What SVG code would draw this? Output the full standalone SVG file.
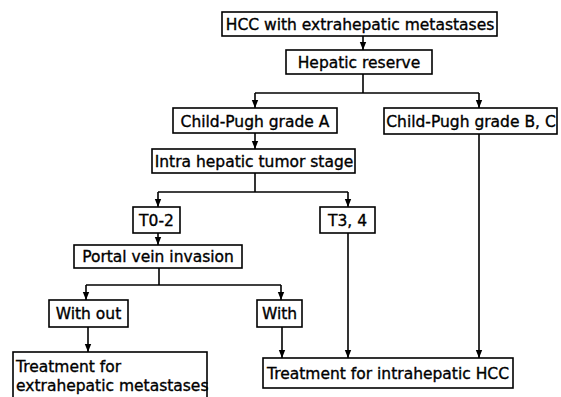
<svg xmlns="http://www.w3.org/2000/svg" width="561" height="397" viewBox="0 0 561 397">
<style>
rect{fill:#fff;stroke:#000;stroke-width:1.6}
text{font-family:"DejaVu Sans","Liberation Sans",sans-serif;font-size:15.5px;fill:#000;stroke:#000;stroke-width:0.35;text-anchor:middle}
.l{text-anchor:start}
#connectors path{fill:none;stroke:#000;stroke-width:1.6}
</style>
<defs>
<marker id="ah" viewBox="0 0 8 8" refX="8" refY="4" markerWidth="8" markerHeight="8" markerUnits="userSpaceOnUse" orient="auto">
<path d="M0,0.8 L8,4 L0,7.2 Z" fill="#000"/>
</marker>
</defs>
<rect width="561" height="397" style="fill:#fff;stroke:none"/>
<g id="connectors">
<path d="M363,36 V50" marker-end="url(#ah)"/>
<path d="M363,74 V93"/>
<path d="M255,93 H479"/>
<path d="M255,93 V108" marker-end="url(#ah)"/>
<path d="M479,93 V108" marker-end="url(#ah)"/>
<path d="M255,133 V149" marker-end="url(#ah)"/>
<path d="M255,173 V192"/>
<path d="M158,192 H348"/>
<path d="M158,192 V207" marker-end="url(#ah)"/>
<path d="M348,192 V207" marker-end="url(#ah)"/>
<path d="M158,233 V245" marker-end="url(#ah)"/>
<path d="M159,268 V285"/>
<path d="M86,285 H281"/>
<path d="M86,285 V300" marker-end="url(#ah)"/>
<path d="M281,285 V300" marker-end="url(#ah)"/>
<path d="M88,327 V352" marker-end="url(#ah)"/>
<path d="M282,327 V358" marker-end="url(#ah)"/>
<path d="M348,233 V358" marker-end="url(#ah)"/>
<path d="M479,134 V358" marker-end="url(#ah)"/>
</g>
<g id="hcc"><rect x="222" y="12" width="275" height="24"/><text x="360" y="30">HCC with extrahepatic metastases</text></g>
<g id="reserve"><rect x="286" y="50" width="146" height="24"/><text x="359" y="68">Hepatic reserve</text></g>
<g id="cpa"><rect x="173" y="108" width="164" height="25"/><text x="255" y="126.5">Child-Pugh grade A</text></g>
<g id="cpbc"><rect x="384" y="108" width="173" height="26"/><text x="471" y="127">Child-Pugh grade B, C</text></g>
<g id="stage"><rect x="152" y="149" width="203" height="24"/><text x="254" y="167">Intra hepatic tumor stage</text></g>
<g id="t02"><rect x="133" y="207" width="47" height="26"/><text x="156.5" y="226">T0-2</text></g>
<g id="t34"><rect x="320" y="207" width="55" height="26"/><text x="347.5" y="226">T3, 4</text></g>
<g id="portal"><rect x="74" y="245" width="168" height="23"/><text x="158" y="262">Portal vein invasion</text></g>
<g id="without"><rect x="49" y="300" width="79" height="27"/><text x="88.5" y="319">With out</text></g>
<g id="with"><rect x="257" y="300" width="45" height="27"/><text x="279.5" y="319">With</text></g>
<g id="txextra"><rect x="13" y="352" width="194" height="60"/><text class="l" x="16" y="372">Treatment for</text><text class="l" x="16" y="391">extrahepatic metastases</text></g>
<g id="txintra"><rect x="263" y="358" width="250" height="30"/><text x="388" y="379">Treatment for intrahepatic HCC</text></g>
</svg>
